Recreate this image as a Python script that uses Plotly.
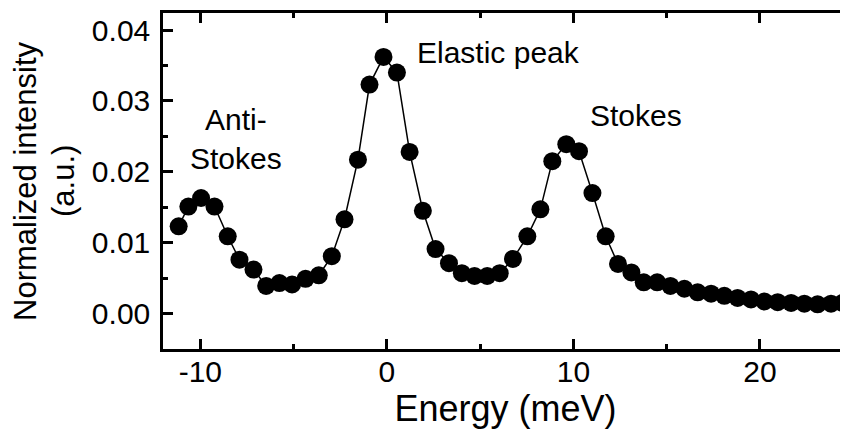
import plotly.graph_objects as go

energy = [-11.16, -10.64, -9.96, -9.24, -8.53, -7.90, -7.15, -6.47, -5.76, -5.08,
          -4.36, -3.65, -2.95, -2.27, -1.55, -0.93, -0.18, 0.54, 1.22, 1.93,
          2.61, 3.33, 4.02, 4.70, 5.38, 6.05, 6.76, 7.53, 8.23, 8.87,
          9.62, 10.30, 11.02, 11.73, 12.39, 13.11, 13.77, 14.49, 15.20, 15.95,
          16.66, 17.38, 18.09, 18.80, 19.52, 20.24, 20.95, 21.67, 22.38, 23.09,
          23.81, 24.43]
intensity = [0.0123, 0.0151, 0.0163, 0.0151, 0.0109, 0.0076, 0.0062, 0.0039, 0.0043, 0.0041,
             0.0049, 0.0054, 0.0081, 0.0133, 0.0217, 0.0323, 0.0362, 0.0340, 0.0228, 0.0145,
             0.0091, 0.0071, 0.0057, 0.0053, 0.0053, 0.0057, 0.0077, 0.0109, 0.0147, 0.0215,
             0.0239, 0.0229, 0.0170, 0.0109, 0.0070, 0.0058, 0.0044, 0.0044, 0.0039, 0.0035,
             0.0030, 0.0028, 0.0025, 0.0022, 0.0020, 0.0017, 0.0016, 0.0015, 0.0014, 0.0013,
             0.0014, 0.0015]

x_ticks = [-10, 0, 10, 20]
x_tick_labels = ["-10", "0", "10", "20"]
y_ticks = [0.00, 0.01, 0.02, 0.03, 0.04]
y_tick_labels = ["0.00", "0.01", "0.02", "0.03", "0.04"]

labels = ["Elastic peak", "Anti-<br>Stokes", "Stokes"]
label_x = [1.5, -8.1, 13.35]
label_y = [0.0368, 0.0246, 0.0279]
label_anchor = ["left", "center", "center"]

y_title_lines = ["Normalized intensity", "(a.u.)"]
y_title_shift = [-138, -100]

FONT = "Liberation Sans, Arial, sans-serif"
FS = 30

fig = go.Figure()
fig.add_trace(go.Scatter(
    x=energy, y=intensity, mode="lines+markers",
    line=dict(color="black", width=1.5),
    marker=dict(color="black", size=18),
    showlegend=False,
))
fig.add_trace(go.Scatter(
    x=energy, y=intensity, mode="none", yaxis="y2",
    showlegend=False, hoverinfo="skip",
))

for t, xx, yy, an in zip(labels, label_x, label_y, label_anchor):
    fig.add_annotation(x=xx, y=yy, xref="x", yref="y", text=t, showarrow=False,
                       xanchor=an, yanchor="middle", align="center",
                       font=dict(family=FONT, size=FS, color="black"))

# y-axis title, two rotated lines
for t, sh in zip(y_title_lines, y_title_shift):
    fig.add_annotation(x=0, y=0.5, xref="paper", yref="paper", text=t, showarrow=False,
                       textangle=-90, xanchor="center", yanchor="middle", xshift=sh,
                       font=dict(family=FONT, size=31, color="black"))

yrange = [-0.005, 0.0424]
# the page body adds an 8 px offset, so the figure is 8 px smaller on each side
fig.update_layout(
    width=840, height=425,
    margin=dict(l=155, r=0, t=5, b=83.5),
    paper_bgcolor="white", plot_bgcolor="white",
    font=dict(family=FONT, size=FS, color="black"),
    xaxis=dict(
        range=[-12, 24.72], tickvals=x_ticks, ticktext=x_tick_labels,
        ticks="inside", ticklen=10, tickwidth=2.5,
        tickcolor="black", showline=True, linecolor="black", linewidth=2.5,
        mirror="ticks", showgrid=False, zeroline=False, automargin=False,
        minor=dict(dtick=5, tick0=0, ticks="inside", ticklen=5, tickwidth=2.5, tickcolor="black"),
        title=dict(text="Energy (meV)", standoff=4),
        ticklabelstandoff=-6,
    ),
    yaxis=dict(
        range=yrange, tickvals=y_ticks, ticktext=y_tick_labels, ticks="inside",
        ticklen=10, tickwidth=2.5, tickcolor="black", showline=True, linecolor="black",
        linewidth=2.5, showgrid=False, zeroline=False, automargin=False,
        minor=dict(dtick=0.005, tick0=0, ticks="inside", ticklen=5, tickwidth=2.5, tickcolor="black"),
        ticklabelstandoff=4,
    ),
    yaxis2=dict(
        range=yrange, overlaying="y", side="right", tickvals=y_ticks, ticks="inside",
        ticklen=6, tickwidth=2.5, tickcolor="black", showline=False, showticklabels=False,
        showgrid=False, zeroline=False, automargin=False,
        minor=dict(dtick=0.005, tick0=0, ticks="inside", ticklen=3, tickwidth=2.5, tickcolor="black"),
    ),
)

fig.write_html("out.html")
